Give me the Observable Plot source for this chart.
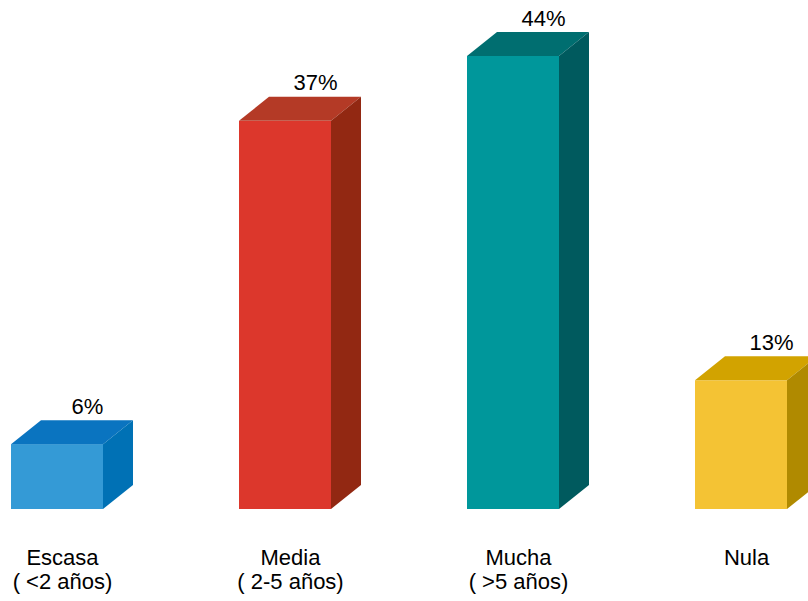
<!DOCTYPE html>
<html>
<head>
<meta charset="utf-8">
<script src="https://cdn.jsdelivr.net/npm/d3@7"></script>
<script src="https://cdn.jsdelivr.net/npm/@observablehq/plot@0.6"></script>
<style>
  html, body { margin: 0; padding: 0; background: #fff; }
  #chart svg { display: block; }
</style>
</head>
<body>
<div id="chart"></div>
<script>
// Data
const categories = ["Escasa", "Media", "Mucha", "Nula"];
const subLabels = ["( <2 años)", "( 2-5 años)", "( >5 años)", ""];
const values = [6.3, 37.7, 44, 12.5];          // bar heights
const valueLabels = ["6%", "37%", "44%", "13%"];

// Styles
const frontColors = ["#349ad6", "#dc372c", "#00979b", "#f4c334"];
const topColors = ["#0a74c0", "#b43a26", "#006e70", "#d2a300"];
const sideColors = ["#0071b5", "#922812", "#005a5e", "#b08a00"];

const data = categories.map((c, i) => ({
  cat: c, value: values[i], label: valueLabels[i],
  front: frontColors[i], top: topColors[i], side: sideColors[i]
}));

const depthX = 30, depthY = 24;

function faces(index, scales) {
  const x = scales.x, y = scales.y;
  const bw = x.bandwidth();
  const g = d3.create("svg:g");
  data.forEach(d => {
    const x0 = x(d.cat), x1 = x0 + bw, yt = y(d.value), yb = y(0);
    g.append("path").attr("fill", d.top)
      .attr("d", `M${x0},${yt}L${x0 + depthX},${yt - depthY}L${x1 + depthX},${yt - depthY}L${x1},${yt}Z`);
    g.append("path").attr("fill", d.side)
      .attr("d", `M${x1},${yt}L${x1 + depthX},${yt - depthY}L${x1 + depthX},${yb - depthY}L${x1},${yb}Z`);
  });
  return g.node();
}

const chart = Plot.plot({
  width: 808,
  height: 601,
  marginTop: 56,
  marginBottom: 92,
  marginLeft: 0,
  marginRight: 0,
  style: {fontFamily: "'Liberation Sans', Arial, sans-serif", color: "#000", background: "#fff"},
  x: {type: "band", domain: categories, range: [11, 787], paddingInner: 0.5965, paddingOuter: 0, axis: null, label: null},
  y: {domain: [0, 44], axis: null},
  color: {type: "identity"},
  marks: [
    Plot.barY(data, {x: "cat", y: "value", fill: "front"}),
    faces,
    Plot.text(data, {x: "cat", y: "value", text: "label", dx: 30, dy: -31, lineAnchor: "bottom", fontSize: 22, fill: "#000"}),
    Plot.axisX({
      label: null, tickSize: 0, tickPadding: 38, fontSize: 22, lineHeight: 1.1, dx: 5,
      tickFormat: d => { const i = categories.indexOf(d); return subLabels[i] ? d + "\n" + subLabels[i] : d; }
    })
  ]
});
document.getElementById("chart").appendChild(chart);
</script>
</body>
</html>
